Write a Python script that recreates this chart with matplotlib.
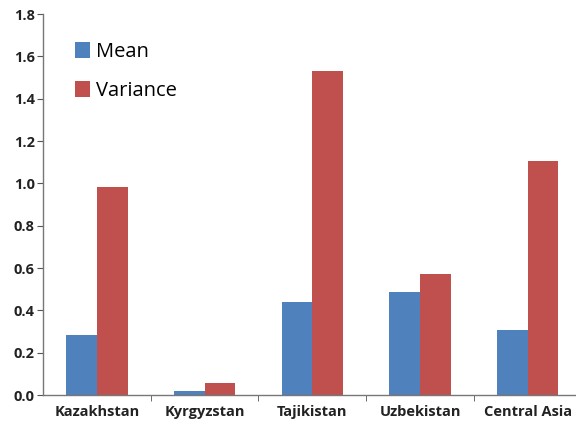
import matplotlib
matplotlib.use("Agg")
import matplotlib.pyplot as plt
import numpy as np

categories = ["Kazakhstan", "Kyrgyzstan", "Tajikistan", "Uzbekistan", "Central Asia"]
mean_vals = [0.283, 0.02, 0.44, 0.487, 0.31]
var_vals = [0.985, 0.055, 1.53, 0.57, 1.108]
yticks = [0.0, 0.2, 0.4, 0.6, 0.8, 1.0, 1.2, 1.4, 1.6, 1.8]

plt.rcParams['font.family'] = ['Open Sans', 'DejaVu Sans']

fig = plt.figure(figsize=(5.76, 4.29), dpi=100)
ax = fig.add_axes([0.0747, 0.079, 0.935, 0.888])

x = np.arange(len(categories))
w = 0.285
ax.bar(x - w/2, mean_vals, width=w, color="#4F81BD", label="Mean")
ax.bar(x + w/2, var_vals, width=w, color="#C0504D", label="Variance")

ax.set_xlim(-0.5, len(categories) - 0.5)
ax.set_ylim(0, 1.8)
ax.set_yticks(yticks)
ax.set_yticklabels([f"{v:.1f}" for v in yticks], fontsize=10.5, fontweight="bold", color="#222222")
ax.set_xticks(x)
ax.set_xticklabels(categories, fontsize=10.5, fontweight="bold", color="#222222")
ax.set_xticks(np.arange(len(categories) - 1) + 0.5, minor=True)
ax.tick_params(axis="x", which="major", length=0, pad=7)
ax.tick_params(axis="x", which="minor", length=4, direction="out", color="#555555")
ax.tick_params(axis="y", length=4, direction="out", color="#555555", pad=2)

for s in ["top", "right"]:
    ax.spines[s].set_visible(False)
for s in ["left", "bottom"]:
    ax.spines[s].set_color("#777777")
    ax.spines[s].set_linewidth(1.0)

ax.legend(loc="upper left", bbox_to_anchor=(0.025, 0.975), frameon=False, fontsize=14.5,
          handlelength=0.75, handleheight=0.8, handletextpad=0.3, labelspacing=0.95)

fig.savefig("out.png", dpi=100)
